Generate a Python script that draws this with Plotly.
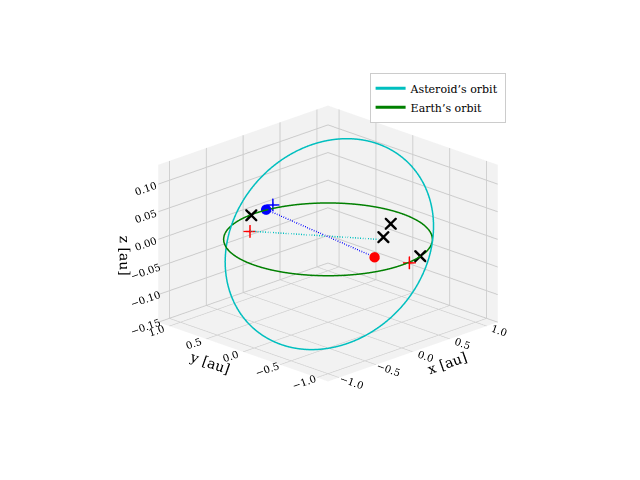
import numpy as np
import plotly.graph_objects as go

# Orbit parameters
ast_a = 1.0
ast_e = 0.05
ast_inc_deg = 7.3
ast_node_deg = -60.0
ast_peri_deg = 60.0
earth_r = 1.0

blue_dot = [0.16, 1.0, 0.0]
red_dot = [-0.03, -0.66, 0.0]
blue_plus = [0.3, 1.05, 0.0]
red_plus = [[-0.37, 0.69, 0.0], [0.1, -1.0, 0.0]]
black_x = [[-0.05, 0.99, 0.0], [0.73, -0.12, 0.0], [0.42, -0.33, 0.0], [0.3, -0.95, 0.0]]
cyan_end = [0.34, -0.34, 0.0]

th = np.linspace(0, 2*np.pi, 400)
r = ast_a*(1-ast_e**2)/(1+ast_e*np.cos(th-np.radians(ast_peri_deg)))
u = th - np.radians(ast_node_deg)
inc = np.radians(ast_inc_deg)
Om = np.radians(ast_node_deg)
xo = r*np.cos(u); yo = r*np.sin(u)*np.cos(inc); zo = r*np.sin(u)*np.sin(inc)
ax_ = xo*np.cos(Om) - yo*np.sin(Om)
ay_ = xo*np.sin(Om) + yo*np.cos(Om)

fig = go.Figure()
fig.add_trace(go.Scatter3d(x=ax_, y=ay_, z=zo, mode='lines', line=dict(color='#00bfbf', width=3), name="Asteroid’s orbit"))
fig.add_trace(go.Scatter3d(x=earth_r*np.cos(th), y=earth_r*np.sin(th), z=0*th, mode='lines', line=dict(color='green', width=3), name="Earth’s orbit"))
fig.add_trace(go.Scatter3d(x=[blue_dot[0], red_dot[0]], y=[blue_dot[1], red_dot[1]], z=[blue_dot[2], red_dot[2]], mode='lines', line=dict(color='blue', width=3, dash='dash'), showlegend=False))
fig.add_trace(go.Scatter3d(x=[red_plus[0][0], cyan_end[0]], y=[red_plus[0][1], cyan_end[1]], z=[red_plus[0][2], cyan_end[2]], mode='lines', line=dict(color='#00bfbf', width=3, dash='dash'), showlegend=False))
fig.add_trace(go.Scatter3d(x=[blue_dot[0]], y=[blue_dot[1]], z=[blue_dot[2]], mode='markers', marker=dict(color='blue', size=6), showlegend=False))
fig.add_trace(go.Scatter3d(x=[red_dot[0]], y=[red_dot[1]], z=[red_dot[2]], mode='markers', marker=dict(color='red', size=6), showlegend=False))
fig.add_trace(go.Scatter3d(x=[blue_plus[0]], y=[blue_plus[1]], z=[blue_plus[2]], mode='markers', marker=dict(color='blue', size=7, symbol='cross'), showlegend=False))
fig.add_trace(go.Scatter3d(x=[p[0] for p in red_plus], y=[p[1] for p in red_plus], z=[p[2] for p in red_plus], mode='markers', marker=dict(color='red', size=7, symbol='cross'), showlegend=False))
fig.add_trace(go.Scatter3d(x=[p[0] for p in black_x], y=[p[1] for p in black_x], z=[p[2] for p in black_x], mode='markers', marker=dict(color='black', size=2.8, symbol='x'), showlegend=False))

axstyle = dict(backgroundcolor='#f2f2f2', gridcolor='#cccccc', showbackground=True, zeroline=False,
               tickfont=dict(size=11, family='DejaVu Serif'), title_font=dict(size=17, family='DejaVu Serif'))
fig.update_layout(
    width=640, height=480, margin=dict(l=0, r=0, t=0, b=0),
    paper_bgcolor='white', font=dict(family='DejaVu Serif', color='black'),
    legend=dict(x=0.565, y=0.865, xanchor='left', yanchor='top', bordercolor='#cccccc', borderwidth=1, font=dict(size=11)),
    scene=dict(
        xaxis=dict(axstyle, title='x [au]', range=[-1.15, 1.15], tickvals=[-1, -0.5, 0, 0.5, 1], tickformat='.1f'),
        yaxis=dict(axstyle, title='y [au]', range=[-1.15, 1.15], tickvals=[-1, -0.5, 0, 0.5, 1], tickformat='.1f'),
        zaxis=dict(axstyle, title='z [au]', range=[-0.15, 0.135], tickvals=[-0.15, -0.1, -0.05, 0, 0.05, 0.1], tickformat='.2f'),
        aspectmode='manual', aspectratio=dict(x=1, y=1, z=0.7),
        camera=dict(eye=dict(x=-0.95, y=-0.95, z=0.48), center=dict(x=0, y=0, z=-0.02),
                    projection=dict(type='orthographic')),
        domain=dict(x=[0.0, 1.0], y=[0.0, 1.0]),
    ),
)
fig.write_html("out.html")
